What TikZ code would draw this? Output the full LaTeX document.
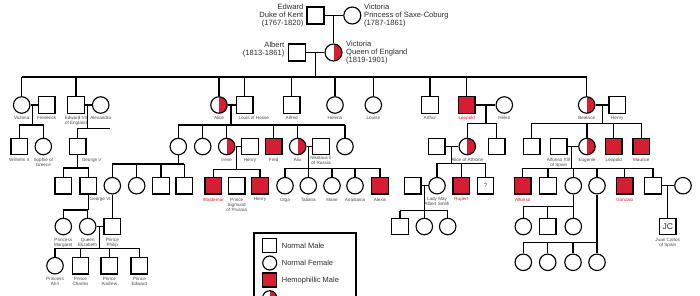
\documentclass[tikz,border=0pt]{standalone}
\usepackage{fontspec}
\setmainfont{Liberation Sans}
\usetikzlibrary{positioning}
\definecolor{hemo}{RGB}{214,30,50}
\definecolor{labc}{RGB}{75,75,75}
\definecolor{txtc}{RGB}{45,45,45}
\tikzset{
  pm/.style={draw, rectangle, minimum size=16.5pt, inner sep=0pt, line width=1.15pt, fill=white},
  pf/.style={draw, circle, minimum size=16.5pt, inner sep=0pt, line width=1.15pt, fill=white},
  ph/.style={pm, fill=hemo},
  pc/.style={pf, path picture={\fill[hemo] (path picture bounding box.north) rectangle (path picture bounding box.south east);}},
  ln/.style={line width=1.15pt},
  lb/.style={font=\fontsize{4.6}{5}\selectfont, text=labc, align=center, inner sep=0pt},
  lr/.style={lb, text=hemo},
  big/.style={font=\fontsize{7.6}{8.2}\selectfont, text=txtc, inner sep=0pt},
  leg/.style={font=\fontsize{7.5}{8}\selectfont, text=txtc, inner sep=0pt, anchor=west},
}
\begin{document}
\begin{tikzpicture}[x=1pt,y=-1pt]
\clip (0,0) rectangle (700,295);
\fill[white] (0,0) rectangle (700,295);

% ---------- generation 0/1
\node[pm,minimum size=17pt] (edw) at (315.5,15.5) {};
\node[pf,minimum size=17pt] (vps) at (352.3,15.5) {};
\draw[ln] (edw) -- (vps);
\coordinate (d0) at (333.5,15.5);
\node[pc,minimum size=17pt] (vq) at (333.5,52.5) {};
\draw[ln] (d0) -- (vq);
\node[pm,minimum size=17pt] (alb) at (296.7,52.5) {};
\draw[ln] (alb) -- (vq);
\coordinate (d1) at (315.7,52.5);
\coordinate (k1) at (315.7,77);
\draw[ln] (d1) -- (k1);

\node[big, anchor=east, align=right] (tEdw) at (303.5,15.5) {Edward\\Duke of Kent\\(1767-1820)};
\node[big, anchor=west, align=left] (tVps) at (364,15.5) {Victoria\\Princess of Saxe-Coburg\\(1787-1861)};
\node[big, anchor=east, align=right] (tAlb) at (284.5,49.7) {Albert\\(1813-1861)};
\node[big, anchor=west, align=left] (tVq) at (346,52.3) {Victoria\\Queen of England\\(1819-1901)};

% ---------- generation 2 (y=105)
\node[pf] (vic) at (21.7,105) {};
\node[pm] (fred) at (46.7,105) {};
\node[pm] (ed7) at (76,105) {};
\node[pf] (alex) at (100.7,105) {};
\node[pc] (alice) at (219,105) {};
\node[pm] (louis) at (244.7,105) {};
\node[pm] (alfred) at (291.7,105) {};
\node[pf] (helena) at (335,105) {};
\node[pf] (louise) at (373.3,105) {};
\node[pm] (arthur) at (430,105) {};
\node[ph] (leo) at (466.7,105) {};
\node[pf] (helen) at (504.3,105) {};
\node[pc] (bea) at (586.7,105) {};
\node[pm] (henry) at (617.3,105) {};

\draw[ln] (vic.north |- k1) -- (bea.north |- k1);
\foreach \n in {vic,ed7,alice,louis,alfred,helena,louise,arthur,leo,bea}
  \draw[ln] (\n.north) -- (\n.north |- k1);

\node[lb, below=2.5pt of vic] (lvic) {Victoria};
\node[lb, below=2.5pt of fred] (lfred) {Frederick};
\node[lb, below=2.5pt of ed7] (led7) {Edward VII\\of England};
\node[lb, below=2.5pt of alex] (lalex) {Alexandra};
\node[lb, below=2.5pt of alice] (lalice) {Alice};
\node[lb, anchor=north] (llouis) at (253.8,115.8) {Louis of Hesse};
\node[lb, below=2.5pt of alfred] (lalfred) {Alfred};
\node[lb, below=2.5pt of helena] (lhelena) {Helena};
\node[lb, below=2.5pt of louise] (llouise) {Louise};
\node[lb, below=2.5pt of arthur] (larthur) {Arthur};
\node[lr, below=2.5pt of leo] (lleo) {Leopold};
\node[lb, below=2.5pt of helen] (lhelen) {Helen};
\node[lb, below=2.5pt of bea] (lbea) {Beatrice};
\node[lb, below=2.5pt of henry] (lhenry) {Henry};

% ---------- generation 3 (y=146.5)
\node[pm] (wil) at (19.3,146.5) {};
\node[pf] (soph) at (43.3,146.5) {};
\node[pm] (gv) at (77.7,146.5) {};
\node[pf] (vh) at (178.3,146.5) {};
\node[pf] (ell) at (202.7,146.5) {};
\node[pc] (irene) at (226.7,146.5) {};
\node[pm] (henr) at (250,146.5) {};
\node[ph] (fredd) at (273.7,146.5) {};
\node[pc] (alix) at (297.7,146.5) {};
\node[pm] (nik) at (321,146.5) {};
\node[pf] (mari) at (345,146.5) {};
\node[pm] (teck) at (436.7,146.5) {};
\node[pc] (aath) at (467.3,146.5) {};
\node[pm] (cha) at (496.7,146.5) {};
\node[pm] (bs1) at (531.7,146.5) {};
\node[pm] (alf13) at (558.7,146.5) {};
\node[pc] (eug) at (587,146.5) {};
\node[ph] (leo2) at (613.7,146.5) {};
\node[ph] (mau) at (641.3,146.5) {};

% Victoria - Frederick
\draw[ln] (vic) -- (fred);
\coordinate (d2) at (32.3,105); \coordinate (k2) at (32.3,125);
\draw[ln] (d2) -- (k2);
\draw[ln] (wil.north) -- (wil.north |- k2) -- (soph.north |- k2) -- (soph.north);
% Edward VII - Alexandra
\draw[ln] (ed7) -- (alex);
\coordinate (d3) at (87.3,105); \coordinate (k3) at (87.3,128.3); \coordinate (e3) at (110,128.3);
\draw[ln] (d3) -- (k3);
\draw[ln] (gv.north) -- (gv.north |- k3) -- (e3);
% Alice - Louis
\draw[ln] (alice) -- (louis);
\coordinate (d4) at (231,105); \coordinate (k4) at (231,125);
\draw[ln] (d4) -- (k4);
\draw[ln] (vh.north |- k4) -- (mari.north |- k4);
\foreach \n in {vh,ell,irene,fredd,alix,mari} \draw[ln] (\n.north) -- (\n.north |- k4);
% Leopold - Helen
\draw[ln] (leo) -- (helen);
\coordinate (d5) at (486,105); \coordinate (k5) at (486,123.3);
\draw[ln] (d5) -- (k5);
\draw[ln] (aath.north) -- (aath.north |- k5) -- (cha.north |- k5) -- (cha.north);
% Beatrice - Henry
\draw[ln] (bea) -- (henry);
\coordinate (d6) at (602.3,105); \coordinate (k6) at (602.3,123.3);
\draw[ln] (d6) -- (k6);
\draw[ln] (bs1.north |- k6) -- (mau.north |- k6);
\foreach \n in {bs1,eug,leo2,mau} \draw[ln] (\n.north) -- (\n.north |- k6);

\node[lb, below=2.5pt of wil] (lwil) {Wilhelm II};
\node[lb, below=2.5pt of soph] (lsoph) {Sophie of\\Greece};
\node[lb] (lgv) at (91.7,160) {George V};
\node[lb, below=2.5pt of irene] (lirene) {Irene};
\node[lb, below=2.5pt of henr] (lhenr) {Henry};
\node[lb, below=2.5pt of fredd] (lfredd) {Fred};
\node[lb, below=2.5pt of alix] (lalix) {Alix};
\node[lb, below=0.8pt of nik] (lnik) {Nikolaus II\\of Russia};
\node[lb, below=2.5pt of aath] (laath) {Alice of Athlone};
\node[lb, below=2.5pt of alf13] (lalf13) {Alfonso XIII\\of Spain};
\node[lb, below=2.5pt of eug] (leug) {Eugenie};
\node[lb, below=2.5pt of leo2] (lleo2) {Leopold};
\node[lb, below=2.5pt of mau] (lmau) {Maurice};

% ---------- generation 4 (y=185.7)
\node[pm] (ed8) at (63.3,185.7) {};
\node[pm] (g6) at (88.3,185.7) {};
\node[pf] (aob) at (112.3,185.7) {};
\node[pf] (lou) at (136.7,185.7) {};
\node[pm] (geo) at (161,185.7) {};
\node[pm] (lmb) at (184.3,185.7) {};
\node[ph] (wal) at (213.3,185.7) {};
\node[pm] (sig) at (236.7,185.7) {};
\node[ph] (hen2) at (260,185.7) {};
\node[pf] (olga) at (285,185.7) {};
\node[pf] (tat) at (308.3,185.7) {};
\node[pf] (mar) at (332,185.7) {};
\node[pf] (ana) at (355,185.7) {};
\node[ph] (alexis) at (380,185.7) {};
\node[pm] (ams) at (412.7,185.7) {};
\node[pf] (lmay) at (437,185.7) {};
\node[ph] (rup) at (461.3,185.7) {};
\node[pm] (qq) at (485.5,185.7) {\fontsize{6}{6}\selectfont\color{labc}?};
\node[ph] (alfo) at (522.7,185.7) {};
\node[pm] (jai) at (548,185.7) {};
\node[pf] (bz) at (573.3,185.7) {};
\node[pf] (mc) at (597,185.7) {};
\node[ph] (gon) at (624.7,185.7) {};
\node[pm] (jua) at (653,185.7) {};
\node[pf] (mm) at (683,185.7) {};

% George V children
\coordinate (k7) at (77.7,168);
\draw[ln] (gv.south) -- (k7);
\draw[ln] (ed8.north) -- (ed8.north |- k7) -- (g6.north |- k7) -- (g6.north);
% Victoria of Hesse children
\coordinate (k8) at (178.3,164);
\draw[ln] (vh.south) -- (k8);
\draw[ln] (aob.north |- k8) -- (lmb.north |- k8);
\foreach \n in {aob,lou,geo,lmb} \draw[ln] (\n.north) -- (\n.north |- k8);
% Irene - Henry
\draw[ln] (irene) -- (henr);
\coordinate (d9) at (236.7,146.5); \coordinate (k9) at (236.7,169.3);
\draw[ln] (d9) -- (k9);
\draw[ln] (wal.north) -- (wal.north |- k9) -- (hen2.north |- k9) -- (hen2.north);
% Alix - Nikolaus
\draw[ln] (alix) -- (nik);
\coordinate (d10) at (308.3,146.5); \coordinate (k10) at (308.3,168.3);
\draw[ln] (d10) -- (k10);
\draw[ln] (olga.north |- k10) -- (alexis.north |- k10);
\foreach \n in {olga,tat,mar,ana,alexis} \draw[ln] (\n.north) -- (\n.north |- k10);
% Teck - Alice of Athlone
\draw[ln] (teck) -- (aath);
\coordinate (d11) at (451.7,146.5); \coordinate (k11) at (451.7,163.3);
\draw[ln] (d11) -- (k11);
\draw[ln] (lmay.north |- k11) -- (qq.north |- k11);
\foreach \n in {lmay,rup,qq} \draw[ln] (\n.north) -- (\n.north |- k11);
% Alfonso XIII - Eugenie
\draw[ln] (alf13) -- (eug);
\coordinate (d12) at (571.7,146.5); \coordinate (k12) at (571.7,168.3);
\draw[ln] (d12) -- (k12);
\draw[ln] (alfo.north |- k12) -- (jua.north |- k12);
\foreach \n in {alfo,jai,bz,mc,gon,jua} \draw[ln] (\n.north) -- (\n.north |- k12);

\node[lb, anchor=west] (lg6) at (89.5,199.3) {George VI};
\node[lr, below=3pt of wal] (lwal) {Waldemar};
\node[lb, below=3pt of sig] (lsig) {Prince\\Sigmund\\of Prussia};
\node[lb, below=3pt of hen2] (lhen2) {Henry};
\node[lb, below=3pt of olga] (lolga) {Olga};
\node[lb, below=3pt of tat] (ltat) {Tatiana};
\node[lb, below=3pt of mar] (lmar) {Marie};
\node[lb, below=3pt of ana] (lana) {Anastasia};
\node[lb, below=3pt of alexis] (lalexis) {Alexis};
\node[lb, below=2pt of lmay] (llmay) {Lady May\\Albert Smith};
\node[lr, below=3pt of rup] (lrup) {Rupert};
\node[lr, below=3pt of alfo] (lalfo) {Alfonso};
\node[lr, below=3pt of gon] (lgon) {Gonzalo};

% ---------- generation 5 (y=226.5)
\node[pf] (pmarg) at (63.3,226.5) {};
\node[pf] (qe) at (87.7,226.5) {};
\node[pm] (phil) at (112.3,226.5) {};
\node[pm] (a1) at (400,226.5) {};
\node[pf] (a2) at (424.3,226.5) {};
\node[pf] (a3) at (447.7,226.5) {};
\node[pf] (s1) at (523.3,226.5) {};
\node[pm] (s2) at (547.7,226.5) {};
\node[pf] (s3) at (573.3,226.5) {};
\node[pm] (jc) at (667.7,226.5) {\fontsize{8.5}{8.5}\selectfont\color{txtc}JC};

% George VI children
\coordinate (k13) at (88.3,210);
\draw[ln] (g6.south) -- (k13);
\draw[ln] (pmarg.north) -- (pmarg.north |- k13) -- (qe.north |- k13) -- (qe.north);
% Alice of Battenberg -> Philip
\draw[ln] (aob) -- (phil);
% Lady May
\draw[ln] (ams) -- (lmay);
\coordinate (d14) at (424.3,185.7); \coordinate (k14) at (424.3,210.7);
\draw[ln] (d14) -- (k14);
\draw[ln] (a1.north |- k14) -- (a3.north |- k14);
\foreach \n in {a1,a2,a3} \draw[ln] (\n.north) -- (\n.north |- k14);
% Beatriz
\coordinate (k15) at (573.3,206.7);
\draw[ln] (bz.south) -- (k15);
\draw[ln] (s1.north |- k15) -- (s3.north |- k15);
\foreach \n in {s1,s2,s3} \draw[ln] (\n.north) -- (\n.north |- k15);
% Juan - Mercedes
\draw[ln] (jua) -- (mm);
\coordinate (d16) at (667.7,185.7);
\draw[ln] (d16) -- (jc);

\node[lb, below=2.5pt of pmarg] (lpmarg) {Princess\\Margaret};
\node[lb, below=2.5pt of qe] (lqe) {Queen\\Elizabeth};
\node[lb, below=2.5pt of phil] (lphil) {Prince\\Philip};
\node[lb, below=2.5pt of jc] (ljc) {Juan Carlos\\of Spain};

% ---------- generation 6
\node[pf] (ann) at (55,265.7) {};
\node[pm] (charles) at (80.5,265.7) {};
\node[pm] (andrew) at (109.3,265.7) {};
\node[pm] (edward) at (139.3,265.7) {};
\node[pf] (t1) at (523.3,262.3) {};
\node[pf] (t2) at (547.7,262.3) {};
\node[pf] (t3) at (573,262.3) {};
\node[pf] (t4) at (597,262.3) {};

\draw[ln] (qe) -- (phil);
\coordinate (d17) at (99.3,226.5); \coordinate (k17) at (99.3,248.3);
\draw[ln] (d17) -- (k17);
\draw[ln] (ann.north |- k17) -- (edward.north |- k17);
\foreach \n in {ann,charles,andrew,edward} \draw[ln] (\n.north) -- (\n.north |- k17);

\coordinate (k18) at (597,242.7);
\draw[ln] (mc.south) -- (k18);
\draw[ln] (t1.north |- k18) -- (t4.north |- k18);
\foreach \n in {t1,t2,t3,t4} \draw[ln] (\n.north) -- (\n.north |- k18);

\node[lb, below=2.5pt of ann] (lann) {Princess\\Ann};
\node[lb, below=2.5pt of charles] (lcharles) {Prince\\Charles};
\node[lb, below=2.5pt of andrew] (landrew) {Prince\\Andrew};
\node[lb, below=2.5pt of edward] (ledward) {Prince\\Edward};

% ---------- legend
\node[draw, line width=1.8pt, anchor=north west, minimum width=101.7pt, minimum height=90pt, inner sep=0pt] (legbox) at (253.3,231.7) {};
\node[pm, minimum size=14pt] (lg1) at (269.7,245.3) {};
\node[leg] (lt1) at (281.7,245.8) {Normal Male};
\node[pf, minimum size=14pt] (lg2) at (269.7,263) {};
\node[leg] (lt2) at (281.7,263.3) {Normal Female};
\node[ph, minimum size=14pt] (lg3) at (269.7,280) {};
\node[leg] (lt3) at (281.7,280.3) {Hemophillic Male};
\node[pc, minimum size=14pt] (lg4) at (269.7,297.7) {};
\end{tikzpicture}
\end{document}
